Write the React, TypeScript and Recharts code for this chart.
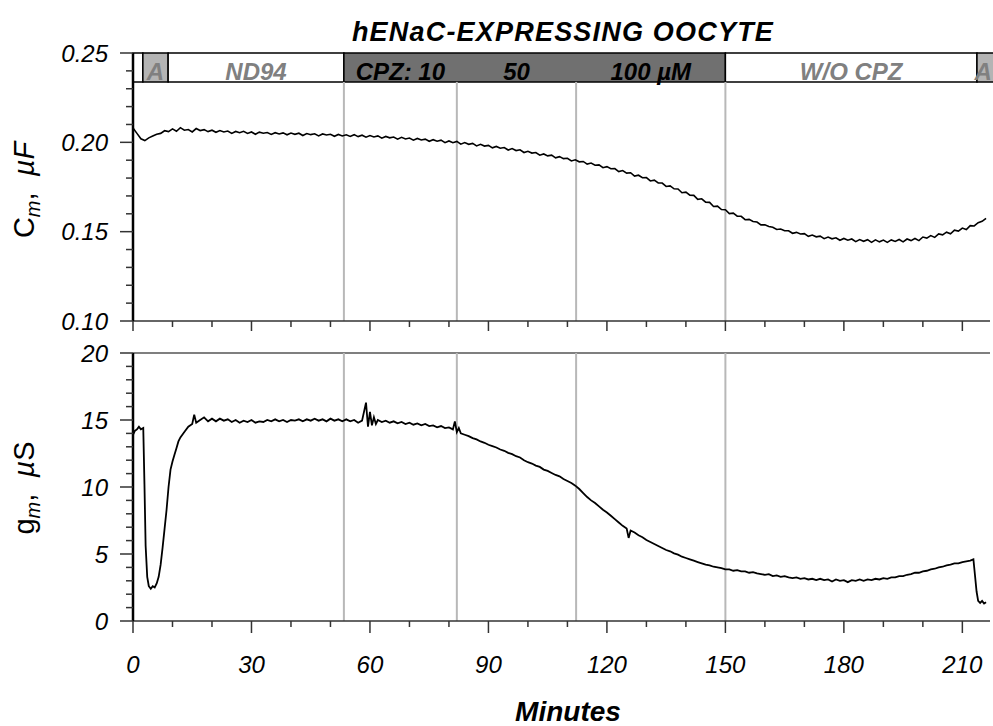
import { LineChart, Line, XAxis, YAxis, ReferenceLine, ReferenceArea } from 'recharts';

const FONT = '"Liberation Sans", Arial, Helvetica, sans-serif';

// x axis (minutes)
const minuteTicks = [0, 10, 20, 30, 40, 50, 60, 70, 80, 90, 100, 110, 120, 130, 140, 150, 160, 170, 180, 190, 200, 210];
const minuteMajor = [0, 30, 60, 90, 120, 150, 180, 210];

// membrane capacitance axis (µF)
const cmTicks = [0.10, 0.11, 0.12, 0.13, 0.14, 0.15, 0.16, 0.17, 0.18, 0.19, 0.20, 0.21, 0.22, 0.23, 0.24, 0.25];
const cmMajor = [0.10, 0.15, 0.20, 0.25];

// membrane conductance axis (µS)
const gmTicks = [0, 1, 2, 3, 4, 5, 6, 7, 8, 9, 10, 11, 12, 13, 14, 15, 16, 17, 18, 19, 20];
const gmMajor = [0, 5, 10, 15, 20];

// solution changes (min)
const solutionChanges = [53.4, 82, 112.2, 150];

// protocol bar on top of the Cm panel
const barBottom = 0.2338;
const protocolBar = [
  { from: 0, to: 2.5, kind: 'bath' },
  { from: 2.5, to: 8.9, kind: 'amiloride' },
  { from: 8.9, to: 53.4, kind: 'bath' },
  { from: 53.4, to: 150, kind: 'drug' },
  { from: 150, to: 213.7, kind: 'bath' },
  { from: 213.7, to: 219, kind: 'amiloride' },
];
const barLabels = [
  { from: 2.5, to: 8.9, label: 'A', kind: 'amiloride' },
  { from: 8.9, to: 53.4, label: 'ND94', kind: 'bath' },
  { from: 53.4, to: 82, label: 'CPZ: 10', kind: 'drug' },
  { from: 82, to: 112.2, label: '50', kind: 'drug' },
  { from: 112.2, to: 150, label: '100 \u00b5M', kind: 'drug' },
  { from: 150, to: 213.7, label: 'W/O CPZ', kind: 'bath' },
  { from: 213.7, to: 216.9, label: 'A', kind: 'amiloride' },
];

// Cm, one value per minute from 0 to 216
const cmValues = [
  0.2080, 0.2050, 0.2020, 0.2010, 0.2025, 0.2035, 0.2045, 0.2050, 0.2065, 0.2060,
  0.2075, 0.2062, 0.2082, 0.2068, 0.2072, 0.2058, 0.2077, 0.2066, 0.2071, 0.2060,
  0.2068, 0.2056, 0.2066, 0.2058, 0.2063, 0.2050, 0.2061, 0.2054, 0.2062, 0.2050,
  0.2058, 0.2045, 0.2057, 0.2051, 0.2055, 0.2044, 0.2054, 0.2047, 0.2053, 0.2042,
  0.2052, 0.2045, 0.2051, 0.2038, 0.2049, 0.2043, 0.2048, 0.2036, 0.2047, 0.2041,
  0.2045, 0.2034, 0.2044, 0.2036, 0.2042, 0.2033, 0.2043, 0.2032, 0.2040, 0.2029,
  0.2038, 0.2030, 0.2036, 0.2023, 0.2033, 0.2025, 0.2030, 0.2018, 0.2028, 0.2019,
  0.2024, 0.2012, 0.2022, 0.2013, 0.2018, 0.2006, 0.2015, 0.2006, 0.2012, 0.1998,
  0.2008, 0.1998, 0.2005, 0.1990, 0.1999, 0.1989, 0.1994, 0.1980, 0.1989, 0.1979,
  0.1983, 0.1969, 0.1977, 0.1967, 0.1971, 0.1957, 0.1965, 0.1954, 0.1958, 0.1943,
  0.1950, 0.1940, 0.1943, 0.1928, 0.1935, 0.1924, 0.1928, 0.1913, 0.1920, 0.1909,
  0.1911, 0.1896, 0.1902, 0.1891, 0.1893, 0.1878, 0.1884, 0.1872, 0.1874, 0.1858,
  0.1864, 0.1852, 0.1853, 0.1836, 0.1842, 0.1828, 0.1830, 0.1811, 0.1816, 0.1802,
  0.1803, 0.1784, 0.1788, 0.1773, 0.1772, 0.1753, 0.1756, 0.1740, 0.1739, 0.1718,
  0.1721, 0.1704, 0.1703, 0.1681, 0.1684, 0.1665, 0.1664, 0.1641, 0.1643, 0.1624,
  0.1623, 0.1601, 0.1604, 0.1587, 0.1586, 0.1567, 0.1569, 0.1557, 0.1554, 0.1538,
  0.1538, 0.1529, 0.1525, 0.1512, 0.1515, 0.1505, 0.1505, 0.1491, 0.1496, 0.1487,
  0.1489, 0.1474, 0.1481, 0.1471, 0.1475, 0.1461, 0.1470, 0.1460, 0.1466, 0.1452,
  0.1462, 0.1452, 0.1459, 0.1444, 0.1456, 0.1446, 0.1455, 0.1440, 0.1454, 0.1443,
  0.1453, 0.1440, 0.1454, 0.1445, 0.1456, 0.1443, 0.1459, 0.1450, 0.1462, 0.1450,
  0.1470, 0.1464, 0.1478, 0.1468, 0.1487, 0.1482, 0.1497, 0.1488, 0.1508, 0.1503,
  0.1520, 0.1512, 0.1534, 0.1532, 0.1550, 0.1558, 0.1575,
];

// gm, [minute, µS]
const gmTrace: [number, number][] = [
  [0, 13.9], [0.5, 14.2], [1, 14.3], [1.5, 14.5], [2, 14.3], [2.6, 14.4], [2.9, 10.2], [3.2, 5.6],
  [3.6, 3.3], [4, 2.6], [4.5, 2.4], [5, 2.6], [5.5, 2.5], [6, 2.8], [6.5, 3.3], [7, 4.2],
  [7.5, 5.5], [8, 6.9], [8.5, 8.3], [9, 10.0], [9.5, 11.3], [10, 11.9], [10.5, 12.4], [11, 12.9],
  [11.5, 13.4], [12, 13.7], [13, 14.1], [14, 14.5], [15, 14.7], [15.5, 15.4], [16, 14.8], [17, 15.0],
  [18, 15.2], [19, 14.9], [20, 15.1], [21, 14.9], [22, 15.1], [23, 14.95], [24, 15.05], [25, 14.85],
  [26, 15.0], [27, 14.8], [28, 14.95], [29, 14.85], [30, 15.0], [31, 14.8], [32, 14.9], [33, 14.85],
  [34, 15.0], [35, 14.9], [36, 15.05], [37, 14.9], [38, 15.0], [39, 14.85], [40, 15.0], [41, 14.95],
  [42, 15.05], [43, 14.9], [44, 15.05], [45, 14.95], [46, 15.1], [47, 14.95], [48, 15.05], [49, 14.9],
  [50, 15.1], [51, 14.95], [52, 15.05], [53, 14.9], [54, 15.05], [55, 14.9], [56, 15.0], [57, 14.8],
  [58, 14.95], [59, 16.3], [59.5, 14.5], [60, 15.6], [60.5, 14.6], [61, 15.2], [61.5, 14.7], [62, 15.0],
  [63, 14.85], [64, 14.95], [65, 14.8], [66, 14.9], [67, 14.75], [68, 14.85], [69, 14.7], [70, 14.8],
  [71, 14.65], [72, 14.75], [73, 14.6], [74, 14.7], [75, 14.55], [76, 14.6], [77, 14.45], [78, 14.55],
  [79, 14.4], [80, 14.45], [81, 14.3], [81.5, 14.9], [82, 14.1], [82.5, 14.4], [83, 14.0], [84, 13.9],
  [85, 13.8], [86, 13.65], [87, 13.55], [88, 13.4], [89, 13.3], [90, 13.15], [91, 13.05], [92, 12.95],
  [93, 12.8], [94, 12.7], [95, 12.55], [96, 12.45], [97, 12.3], [98, 12.2], [99, 12.0], [100, 11.85],
  [101, 11.75], [102, 11.6], [103, 11.5], [104, 11.3], [105, 11.2], [106, 11.05], [107, 10.9], [108, 10.8],
  [109, 10.6], [110, 10.45], [111, 10.3], [112, 10.1], [113, 9.85], [114, 9.55], [115, 9.25], [116, 9.0],
  [117, 8.8], [118, 8.55], [119, 8.3], [120, 8.1], [121, 7.85], [122, 7.6], [123, 7.35], [124, 7.1],
  [125, 6.9], [125.5, 6.2], [126, 6.75], [127, 6.6], [128, 6.4], [129, 6.25], [130, 6.05], [131, 5.9],
  [132, 5.75], [133, 5.6], [134, 5.45], [135, 5.3], [136, 5.2], [137, 5.05], [138, 4.95], [139, 4.8],
  [140, 4.7], [141, 4.6], [142, 4.5], [143, 4.4], [144, 4.3], [145, 4.2], [146, 4.15], [147, 4.05],
  [148, 4.0], [149, 3.95], [150, 3.85], [151, 3.85], [152, 3.75], [153, 3.8], [154, 3.7], [155, 3.7],
  [156, 3.6], [157, 3.65], [158, 3.55], [159, 3.5], [160, 3.45], [161, 3.5], [162, 3.35], [163, 3.4],
  [164, 3.3], [165, 3.35], [166, 3.25], [167, 3.2], [168, 3.25], [169, 3.15], [170, 3.2], [171, 3.1],
  [172, 3.15], [173, 3.05], [174, 3.15], [175, 3.05], [176, 3.1], [177, 2.95], [178, 3.1], [179, 3.0],
  [180, 3.05], [181, 2.9], [182, 3.05], [183, 3.0], [184, 3.1], [185, 3.0], [186, 3.1], [187, 3.05],
  [188, 3.15], [189, 3.1], [190, 3.2], [191, 3.15], [192, 3.25], [193, 3.25], [194, 3.35], [195, 3.35],
  [196, 3.45], [197, 3.5], [198, 3.6], [199, 3.6], [200, 3.7], [201, 3.75], [202, 3.85], [203, 3.9],
  [204, 4.0], [205, 4.05], [206, 4.15], [207, 4.2], [208, 4.3], [209, 4.3], [210, 4.4], [211, 4.45],
  [212, 4.5], [212.8, 4.6], [213.2, 3.4], [213.6, 2.2], [214, 1.5], [214.5, 1.35], [215, 1.5], [215.5, 1.3],
  [216, 1.4],
];

const cmData = cmValues.map((v, i) => ({ minute: i, cm: v }));
const gmData = gmTrace.map(([minute, gm]) => ({ minute, gm }));

const barFill: Record<string, string> = { bath: '#ffffff', amiloride: '#b4b4b4', drug: '#707070' };
const barText: Record<string, string> = { bath: '#808080', amiloride: '#808080', drug: '#000' };

const isMajor = (majors: number[], v: number) => majors.some((m) => Math.abs(m - v) < 1e-6);

const XTick = (majors: number[], majorLen: number, withLabel: boolean) => (props: any) => {
  const { x, y, payload } = props;
  const major = isMajor(majors, payload.value);
  return (
    <g>
      <line x1={x} x2={x} y1={y} y2={y + (major ? majorLen : 6)} stroke="#333" strokeWidth={1.5} />
      {withLabel && major && (
        <text x={x} y={y + 52} textAnchor="middle" fontFamily={FONT} fontSize={24} fontStyle="italic" fill="#000">
          {payload.value}
        </text>
      )}
    </g>
  );
};

const YTick = (majors: number[], fmt: (v: number) => string) => (props: any) => {
  const { x, y, payload } = props;
  const major = isMajor(majors, payload.value);
  return (
    <g>
      <line x1={x - (major ? 13 : 7)} x2={x} y1={y} y2={y} stroke="#333" strokeWidth={1.5} />
      {major && (
        <text x={x - 25} y={y + 8.5} textAnchor="end" fontFamily={FONT} fontSize={24} fontStyle="italic" fill="#000">
          {fmt(payload.value)}
        </text>
      )}
    </g>
  );
};

const labelStyle = { fontFamily: FONT, fontSize: 24, fontWeight: 'bold', fontStyle: 'italic' };

export default function App() {
  return (
    <div style={{ position: 'absolute', left: 0, top: 0, width: 993, height: 726, background: '#fff', overflow: 'hidden' }}>
      <div style={{ position: 'absolute', left: 0, top: 0 }}>
        <LineChart width={993} height={340} data={cmData} margin={{ top: 53, right: 3, left: 0, bottom: 0 }}>
          <XAxis
            dataKey="minute"
            type="number"
            domain={[0, 217]}
            ticks={minuteTicks}
            interval={0}
            height={19}
            tickSize={0}
            tickMargin={0}
            tickLine={false}
            axisLine={{ stroke: '#333', strokeWidth: 1.5 }}
            tick={XTick(minuteMajor, 10, false)}
          />
          <YAxis
            type="number"
            domain={[0.1, 0.25]}
            ticks={cmTicks}
            interval={0}
            width={133}
            tickSize={0}
            tickMargin={0}
            tickLine={false}
            axisLine={{ stroke: '#000', strokeWidth: 2.5 }}
            tick={YTick(cmMajor, (v) => v.toFixed(2))}
          />
          {solutionChanges.map((t) => (
            <ReferenceLine
              key={t}
              segment={[{ x: t, y: 0.1 }, { x: t, y: barBottom }]}
              stroke="#b8b8b8"
              strokeWidth={2}
            />
          ))}
          <Line dataKey="cm" stroke="#000" strokeWidth={1.6} dot={false} isAnimationActive={false} />
          {protocolBar.map((s, i) => (
            <ReferenceArea
              key={i}
              x1={s.from}
              x2={s.to}
              y1={barBottom}
              y2={0.25}
              ifOverflow="visible"
              fill={barFill[s.kind]}
              fillOpacity={1}
              stroke="#000"
              strokeWidth={1.5}
            />
          ))}
          {barLabels.map((s, i) => (
            <ReferenceArea
              key={`l${i}`}
              x1={s.from}
              x2={s.to}
              y1={barBottom}
              y2={0.25}
              fill="none"
              stroke="none"
              label={{ value: s.label, position: 'insideBottom', offset: 2, fill: barText[s.kind], ...labelStyle }}
            />
          ))}
        </LineChart>
      </div>

      <div style={{ position: 'absolute', left: 0, top: 340 }}>
        <LineChart width={993} height={386} data={gmData} margin={{ top: 13, right: 3, left: 0, bottom: 0 }}>
          <XAxis
            dataKey="minute"
            type="number"
            domain={[0, 217]}
            ticks={minuteTicks}
            interval={0}
            height={105}
            tickSize={0}
            tickMargin={0}
            tickLine={false}
            axisLine={{ stroke: '#333', strokeWidth: 1.5 }}
            tick={XTick(minuteMajor, 12, true)}
          />
          <YAxis
            type="number"
            domain={[0, 20]}
            ticks={gmTicks}
            interval={0}
            width={133}
            tickSize={0}
            tickMargin={0}
            tickLine={false}
            axisLine={{ stroke: '#000', strokeWidth: 2.5 }}
            tick={YTick(gmMajor, (v) => String(v))}
          />
          <ReferenceLine y={20} stroke="#555" strokeWidth={1.5} />
          {solutionChanges.map((t) => (
            <ReferenceLine key={t} x={t} stroke="#b8b8b8" strokeWidth={2} />
          ))}
          <Line dataKey="gm" stroke="#000" strokeWidth={1.8} dot={false} isAnimationActive={false} />
        </LineChart>
      </div>

      <svg width={993} height={726} style={{ position: 'absolute', left: 0, top: 0, pointerEvents: 'none' }}>
        <text x={563} y={41} textAnchor="middle" fontFamily={FONT} fontSize={27} fontWeight="bold" fontStyle="italic" letterSpacing={1.2}>
          hENaC-EXPRESSING OOCYTE
        </text>
        <text x={568} y={721} textAnchor="middle" fontFamily={FONT} fontSize={28} fontWeight="bold" fontStyle="italic">
          Minutes
        </text>
        <text transform="translate(34,190) rotate(-90)" textAnchor="middle" fontFamily={FONT} fontSize={29}>
          <tspan>C</tspan>
          <tspan fontSize={20} fontStyle="italic" dy={6}>m</tspan>
          <tspan dy={-6}>{',\u00a0\u00a0'}</tspan>
          <tspan fontStyle="italic">{'\u00b5F'}</tspan>
        </text>
        <text transform="translate(34,488) rotate(-90)" textAnchor="middle" fontFamily={FONT} fontSize={29}>
          <tspan>g</tspan>
          <tspan fontSize={20} fontStyle="italic" dy={6}>m</tspan>
          <tspan dy={-6}>{',\u00a0\u00a0'}</tspan>
          <tspan fontStyle="italic">{'\u00b5'}</tspan>
          <tspan>S</tspan>
        </text>
      </svg>
    </div>
  );
}
